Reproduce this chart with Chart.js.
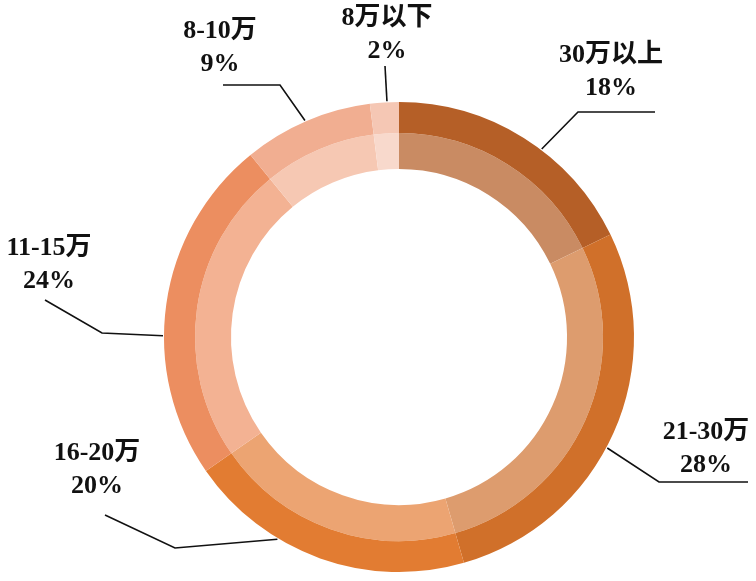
<!DOCTYPE html>
<html>
<head>
<meta charset="utf-8">
<script src="https://cdn.jsdelivr.net/npm/chart.js@4/dist/chart.umd.min.js"></script>
<style>
  html, body { margin: 0; padding: 0; background: #fff; }
  #wrap { width: 756px; height: 581px; }
</style>
</head>
<body>
<div id="wrap"><canvas id="ring" width="756" height="581"></canvas></div>
<script>
// data, clockwise from 12 o'clock
var categories = ["30万以上", "21-30万", "16-20万", "11-15万", "8-10万", "8万以下"];
var shares = [18, 28, 20, 24, 9, 2];
var pctLabels = ["18%", "28%", "20%", "24%", "9%", "2%"];

var outerColors = ["#b55f27", "#d0702a", "#e27c32", "#ec8e60", "#f1ae91", "#f5c7b4"];
var innerColors = ["#c98b63", "#dd9c6e", "#eca472", "#f3b293", "#f6c8b3", "#f8d9cc"];

// label layout: where the text sits, where the leader bends, how far along the arc it attaches
var labelLayout = [
    { text: [611, 55], elbow: [578, 112], end: [655, 112], t: 0.58 },
    { text: [706, 432], elbow: [659, 482], end: [748, 482], t: 0.54 },
    { text: [97, 453], elbow: [175, 548], end: [105, 515], t: 0.66 },
    { text: [49, 248], elbow: [102, 333], end: [45, 300], t: 0.41 },
    { text: [220, 31], elbow: [280, 85], end: [223, 85], t: 0.49 },
    { text: [387, 18], elbow: [385, 66], end: [385, 66], t: 0.59 }
];

var calloutPlugin = {
    id: "callouts",
    afterDatasetsDraw: function (chart) {
        var ctx = chart.ctx;
        var meta = chart.getDatasetMeta(0);
        ctx.save();
        meta.data.forEach(function (arc, i) {
            var lay = labelLayout[i];
            var p = arc.getProps(["x", "y", "startAngle", "endAngle", "outerRadius"], true);
            var a = p.startAngle + lay.t * (p.endAngle - p.startAngle);
            var ax = p.x + Math.cos(a) * (p.outerRadius + 1);
            var ay = p.y + Math.sin(a) * (p.outerRadius + 1);

            ctx.strokeStyle = "#111";
            ctx.lineWidth = 1.6;
            ctx.beginPath();
            ctx.moveTo(ax, ay);
            ctx.lineTo(lay.elbow[0], lay.elbow[1]);
            ctx.lineTo(lay.end[0], lay.end[1]);
            ctx.stroke();

            ctx.fillStyle = "#111";
            ctx.textAlign = "center";
            ctx.textBaseline = "middle";
            ctx.font = "bold 26px 'Liberation Serif', 'Noto Sans CJK SC', serif";
            ctx.fillText(categories[i], lay.text[0], lay.text[1]);
            ctx.fillText(pctLabels[i], lay.text[0], lay.text[1] + 33);
        });
        ctx.restore();
    }
};

var ctx = document.getElementById("ring").getContext("2d");
new Chart(ctx, {
    type: "doughnut",
    data: {
        labels: categories,
        datasets: [
            { data: shares, backgroundColor: outerColors, borderWidth: 0, weight: 31 },
            { data: shares, backgroundColor: innerColors, borderWidth: 0, weight: 36 }
        ]
    },
    options: {
        responsive: false,
        animation: false,
        cutout: "71.5%",
        layout: { padding: { top: 102, bottom: 9, left: 164, right: 122 } },
        plugins: {
            legend: { display: false },
            tooltip: { enabled: false }
        }
    },
    plugins: [calloutPlugin]
});
</script>
</body>
</html>
